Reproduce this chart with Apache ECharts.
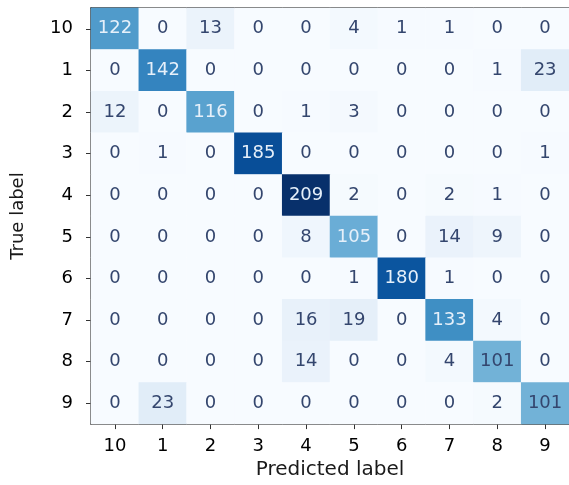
<!DOCTYPE html>
<html>
<head>
<meta charset="utf-8">
<script src="https://cdn.jsdelivr.net/npm/echarts@6/dist/echarts.min.js"></script>
<style>
  html, body { margin: 0; padding: 0; background: #fff; }
  #chart { width: 569px; height: 485px; }
</style>
</head>
<body>
<div id="chart"></div>
<script>
// class labels, top-to-bottom rows and left-to-right columns
const labels = ['10', '1', '2', '3', '4', '5', '6', '7', '8', '9']

// confusion matrix rows (true label), columns (predicted label)
const row10 = [122, 0, 13, 0, 0, 4, 1, 1, 0, 0]
const row1 = [0, 142, 0, 0, 0, 0, 0, 0, 1, 23]
const row2 = [12, 0, 116, 0, 1, 3, 0, 0, 0, 0]
const row3 = [0, 1, 0, 185, 0, 0, 0, 0, 0, 1]
const row4 = [0, 0, 0, 0, 209, 2, 0, 2, 1, 0]
const row5 = [0, 0, 0, 0, 8, 105, 0, 14, 9, 0]
const row6 = [0, 0, 0, 0, 0, 1, 180, 1, 0, 0]
const row7 = [0, 0, 0, 0, 16, 19, 0, 133, 4, 0]
const row8 = [0, 0, 0, 0, 14, 0, 0, 4, 101, 0]
const row9 = [0, 23, 0, 0, 0, 0, 0, 0, 2, 101]

const rows = [row10, row1, row2, row3, row4, row5, row6, row7, row8, row9]

const blues = ['#f7fbff', '#deebf7', '#c6dbef', '#9ecae1', '#6baed6', '#4292c6', '#2171b5', '#08519c', '#08306b']
const vmax = 209
const font = 'DejaVu Sans'

const cells = []
rows.forEach((r, yi) => {
  r.forEach((v, xi) => {
    cells.push({
      value: [xi, yi, v],
      label: { color: v > vmax / 2 ? '#e6f0fa' : '#34466e' }
    })
  })
})

const chart = echarts.init(document.getElementById('chart'))
chart.setOption({
  animation: false,
  grid: { left: 91, width: 480, top: 8, height: 417 },
  xAxis: [
    {
      type: 'category',
      data: labels,
      position: 'bottom',
      name: 'Predicted label',
      nameLocation: 'middle',
      nameGap: 35,
      nameTextStyle: { fontFamily: font, fontSize: 20, color: '#1a1a1a' },
      axisLine: { show: true, lineStyle: { color: '#333', width: 1.5 } },
      axisTick: { show: true, alignWithLabel: true, length: 5, lineStyle: { color: '#333' } },
      axisLabel: { fontFamily: font, fontSize: 18, color: '#000', margin: 13 },
      splitLine: { show: false }
    },
    {
      type: 'category',
      data: labels,
      position: 'top',
      axisLine: { show: true, lineStyle: { color: '#333', width: 1.5 } },
      axisTick: { show: false },
      axisLabel: { show: false }
    }
  ],
  yAxis: {
    type: 'category',
    data: labels,
    inverse: true,
    name: 'True label',
    nameLocation: 'middle',
    nameGap: 64,
    nameTextStyle: { fontFamily: font, fontSize: 18, color: '#1a1a1a' },
    axisLine: { show: true, lineStyle: { color: '#333', width: 1.5 } },
    axisTick: { show: true, alignWithLabel: true, length: 5, lineStyle: { color: '#333' } },
    axisLabel: { fontFamily: font, fontSize: 18, color: '#000', margin: 18 },
    splitLine: { show: false }
  },
  visualMap: {
    show: false,
    min: 0,
    max: vmax,
    dimension: 2,
    inRange: { color: blues }
  },
  series: [{
    type: 'heatmap',
    data: cells,
    label: {
      show: true,
      fontFamily: font,
      fontSize: 18
    },
    itemStyle: { borderWidth: 0 }
  }]
})
</script>
</body>
</html>
